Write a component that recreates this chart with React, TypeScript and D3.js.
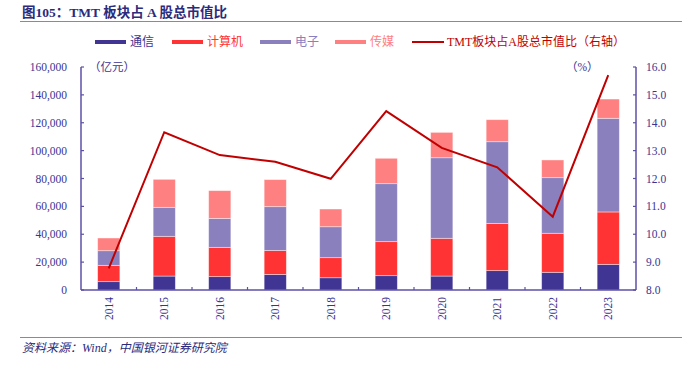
import * as d3 from "d3";

const years = ["2014", "2015", "2016", "2017", "2018", "2019", "2020", "2021", "2022", "2023"];
const tongxin = [6000, 10000, 9600, 11200, 8800, 10300, 10000, 13900, 12700, 18400];
const jisuanji = [11700, 28500, 21000, 17200, 14400, 24400, 27100, 33900, 28000, 37600];
const dianzi = [10500, 20800, 20800, 31400, 22200, 41600, 57800, 58600, 39900, 67200];
const chuanmei = [9100, 20100, 19900, 19400, 12700, 18200, 18200, 15800, 12700, 13800];
const share = [8.78, 13.66, 12.84, 12.6, 11.99, 14.42, 13.1, 12.4, 10.63, 15.71];
const leftTicks = [0, 20000, 40000, 60000, 80000, 100000, 120000, 140000, 160000];
const rightTicks = [8, 9, 10, 11, 12, 13, 14, 15, 16];

const seriesNames = ["通信", "计算机", "电子", "传媒"];
const seriesColors = ["#403593", "#FF3333", "#8A80BE", "#FF8080"];
const lineColor = "#C00000";
const axisColor = "#5B51A6";
const textColor = "#3B3392";
const font = "'Liberation Serif', 'Times New Roman', 'Noto Sans CJK SC', serif";

export default function App() {
  const W = 700;
  const H = 370;
  const left = 81;
  const right = 636;
  const top = 67;
  const bottom = 290;

  const x = d3.scaleBand().domain(years).range([left, right]).paddingInner(0.6).paddingOuter(0.3);
  const y = d3.scaleLinear().domain([0, 160000]).range([bottom, top]);
  const y2 = d3.scaleLinear().domain([8, 16]).range([bottom, top]);

  const rows = years.map((yr, i) => ({
    year: yr,
    s0: tongxin[i],
    s1: jisuanji[i],
    s2: dianzi[i],
    s3: chuanmei[i],
  }));
  const stack = d3.stack<any>().keys(["s0", "s1", "s2", "s3"])(rows);

  const line = d3
    .line<number>()
    .x((_, i) => (x(years[i]) as number) + x.bandwidth() / 2)
    .y((d) => y2(d));

  const step = (right - left) / years.length;
  const bounds = d3.range(1, years.length).map((i) => left + i * step);

  const legendX = [95, 172, 260, 335];

  return (
    <svg width={W} height={H} style={{ position: "absolute", left: 0, top: 0 }} fontFamily={font}>
      <rect width={W} height={H} fill="#fff" />
      <text x={22} y={17} fontSize={13.5} fontWeight="bold" fill="#2C2A7C">
        图105：TMT 板块占 A 股总市值比
      </text>
      <line x1={20} x2={682} y1={21.5} y2={21.5} stroke="#8A82BF" strokeWidth={1.2} />

      {seriesNames.map((name, i) => (
        <g key={name}>
          <rect x={legendX[i]} y={40} width={31} height={4} fill={seriesColors[i]} />
          <text x={legendX[i] + 35} y={46} fontSize={12} fill={seriesColors[i]}>
            {name}
          </text>
        </g>
      ))}
      <line x1={412} x2={444} y1={42} y2={42} stroke={lineColor} strokeWidth={2} />
      <text x={447} y={46} fontSize={12} fill={lineColor}>
        TMT板块占A股总市值比（右轴）
      </text>

      {stack.map((layer, si) => (
        <g key={si}>
          {layer.map((d, i) => (
            <rect
              key={i}
              x={x(years[i])}
              y={y(d[1])}
              width={x.bandwidth()}
              height={y(d[0]) - y(d[1])}
              fill={seriesColors[si]}
              stroke="#ffffff"
              strokeOpacity={0.5}
              strokeWidth={0.8}
            />
          ))}
        </g>
      ))}

      <path d={line(share) || ""} fill="none" stroke={lineColor} strokeWidth={2} strokeLinejoin="miter" />

      {/* axes */}
      <line x1={left} x2={left} y1={top} y2={bottom} stroke={axisColor} strokeWidth={1.5} />
      <line x1={right} x2={right} y1={top} y2={bottom} stroke={axisColor} strokeWidth={1.5} />
      <line x1={left} x2={right} y1={bottom} y2={bottom} stroke={axisColor} strokeWidth={1.5} />

      {leftTicks.map((t) => (
        <g key={t}>
          <line x1={left} x2={left + 3} y1={y(t)} y2={y(t)} stroke={axisColor} strokeWidth={1.2} />
          <text x={67} y={y(t) + 4} fontSize={11.5} textAnchor="end" fill={textColor}>
            {d3.format(",")(t)}
          </text>
        </g>
      ))}
      {rightTicks.map((t) => (
        <g key={t}>
          <line x1={right - 3} x2={right} y1={y2(t)} y2={y2(t)} stroke={axisColor} strokeWidth={1.2} />
          <text x={646} y={y2(t) + 4} fontSize={11.5} fill={textColor}>
            {t.toFixed(1)}
          </text>
        </g>
      ))}
      {bounds.map((b) => (
        <line key={b} x1={b} x2={b} y1={bottom} y2={bottom - 3} stroke={axisColor} strokeWidth={1.2} />
      ))}
      {years.map((yr) => {
        const cx = (x(yr) as number) + x.bandwidth() / 2;
        return (
          <text
            key={yr}
            transform={`translate(${cx + 4},297) rotate(-90)`}
            fontSize={11.5}
            textAnchor="end"
            fill={textColor}
          >
            {yr}
          </text>
        );
      })}

      <text x={89} y={71} fontSize={11.5} fill={textColor}>
        （亿元）
      </text>
      <text x={566} y={71} fontSize={11.5} fill={textColor}>
        （%）
      </text>

      <line x1={20} x2={682} y1={337.5} y2={337.5} stroke="#8A82BF" strokeWidth={1.2} />
      <text x={22} y={352} fontSize={12} fontStyle="italic" fill="#2C2A7C">
        资料来源：Wind，中国银河证券研究院
      </text>
    </svg>
  );
}
